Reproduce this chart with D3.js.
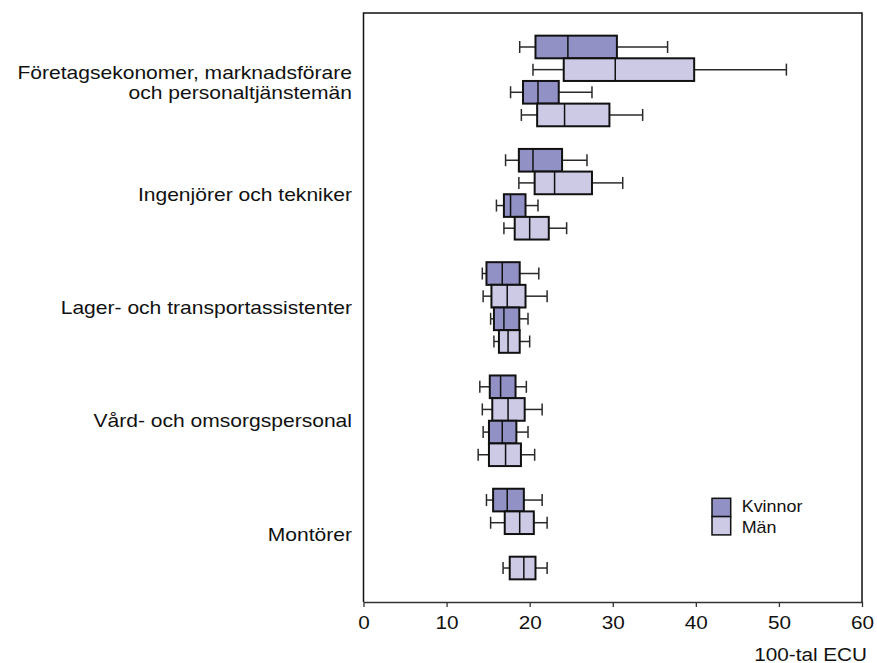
<!DOCTYPE html>
<html>
<head>
<meta charset="utf-8">
<script src="https://cdn.jsdelivr.net/npm/d3@7"></script>
<style>
  html, body { margin: 0; padding: 0; background: #fff; }
  svg { display: block; }
  text { font-family: "Liberation Sans", Arial, sans-serif; fill: #111; }
</style>
</head>
<body>
<svg id="chart" width="877" height="663"></svg>
<script>
// Occupational groups, top to bottom
const categories = [
  "Företagsekonomer, marknadsförare\noch personaltjänstemän",
  "Ingenjörer och tekniker",
  "Lager- och transportassistenter",
  "Vård- och omsorgspersonal",
  "Montörer"
];
// Four boxes per group, alternating women / men
const rowSex = ["Kvinnor", "Män", "Kvinnor", "Män"];
const legendLabels = ["Kvinnor", "Män"];
const xTicks = [0, 10, 20, 30, 40, 50, 60];
const xUnit = "100-tal ECU";

// Box statistics (hundreds of ECU); null = no data
const lowWhisker = [
  [18.8, 20.4, 17.7, 19.0],
  [17.1, 18.7, 16.0, 16.9],
  [14.3, 14.4, 15.3, 15.7],
  [14.0, 14.3, 14.4, 13.8],
  [14.8, 15.3, null, 16.8]
];
const q1 = [
  [20.7, 24.1, 19.2, 20.9],
  [18.7, 20.6, 16.9, 18.2],
  [14.8, 15.4, 15.7, 16.3],
  [15.2, 15.5, 15.1, 15.1],
  [15.6, 17.0, null, 17.6]
];
const median = [
  [24.6, 30.3, 21.0, 24.2],
  [20.4, 23.0, 17.7, 20.0],
  [16.7, 17.3, 16.9, 17.4],
  [16.5, 17.4, 16.7, 17.1],
  [17.3, 18.8, null, 19.3]
];
const q3 = [
  [30.5, 39.8, 23.5, 29.6],
  [23.9, 27.5, 19.5, 22.3],
  [18.8, 19.5, 18.75, 18.8],
  [18.3, 19.4, 18.4, 18.95],
  [19.3, 20.5, null, 20.7]
];
const highWhisker = [
  [36.6, 50.9, 27.5, 33.6],
  [26.9, 31.2, 21.0, 24.45],
  [21.1, 22.1, 19.8, 20.0],
  [19.6, 21.5, 19.8, 20.6],
  [21.5, 22.1, null, 22.1]
];

const fills = { "Kvinnor": "#9191c5", "Män": "#cccae5" };
const textSX = 1.12;   // glyphs are drawn slightly wide
const catSX = 1.17;

const svg = d3.select("#chart");
const plotL = 363.5, plotR = 862, plotT = 13, plotB = 602;

const x = d3.scaleLinear().domain([0, 60]).range([plotL, plotR]);
const y = d3.scaleBand().domain(categories).range([plotT, plotB])
  .paddingInner(0.2).paddingOuter(0.2);
const sub = d3.scaleBand().domain(d3.range(rowSex.length)).range([0, y.bandwidth()]);

// flatten into one record per box
const boxes = [];
categories.forEach((c, i) => {
  rowSex.forEach((s, j) => {
    if (median[i][j] == null) return;
    boxes.push({
      cat: c, row: j, sex: s,
      lo: lowWhisker[i][j], q1: q1[i][j], med: median[i][j],
      q3: q3[i][j], hi: highWhisker[i][j]
    });
  });
});

// frame (left, top, right)
svg.append("path")
  .attr("d", `M${plotL},${plotB}V${plotT}H${plotR}V${plotB}`)
  .attr("fill", "none").attr("stroke", "#111").attr("stroke-width", 1.5);

// x axis
const axis = svg.append("g")
  .attr("transform", `translate(0,${plotB})`)
  .call(d3.axisBottom(x).tickValues(xTicks).tickSize(5).tickSizeOuter(0));
axis.select(".domain").attr("stroke", "#333").attr("stroke-width", 1.5);
axis.selectAll(".tick line").attr("stroke", "#333").attr("stroke-width", 1.3);
axis.selectAll(".tick text")
  .attr("y", 27.3).attr("dy", null)
  .attr("font-size", "18.5px")
  .attr("font-family", "'Liberation Sans', Arial, sans-serif")
  .attr("fill", "#111")
  .attr("transform", `scale(${textSX},1)`);

svg.append("text")
  .attr("transform", `translate(867,660.7) scale(${textSX},1)`)
  .attr("text-anchor", "end").attr("font-size", "18.5px")
  .text(xUnit);

// category labels, right-aligned against the frame
categories.forEach(c => {
  const lines = c.split("\n");
  const cy = y(c) + y.bandwidth() / 2;
  const lh = 20.3;
  const base = lines.length > 1 ? cy + 8.2 - lh / 2 : cy + 6.5;
  lines.forEach((ln, k) => {
    svg.append("text")
      .attr("transform", `translate(352,${base + k * lh}) scale(${catSX},1)`)
      .attr("text-anchor", "end").attr("font-size", "18px")
      .text(ln);
  });
});

const capH = 12;
const g = svg.append("g");

// whiskers
const wh = g.selectAll("g.whisk").data(boxes).join("g").attr("class", "whisk")
  .attr("transform", d => `translate(0,${y(d.cat) + sub(d.row) + sub.bandwidth() / 2})`)
  .attr("stroke", "#2a2a2a").attr("stroke-width", 1.5);
wh.append("line").attr("x1", d => x(d.lo)).attr("x2", d => x(d.q1));
wh.append("line").attr("x1", d => x(d.q3)).attr("x2", d => x(d.hi));
wh.append("line").attr("x1", d => x(d.lo)).attr("x2", d => x(d.lo))
  .attr("y1", -capH / 2).attr("y2", capH / 2);
wh.append("line").attr("x1", d => x(d.hi)).attr("x2", d => x(d.hi))
  .attr("y1", -capH / 2).attr("y2", capH / 2);

// boxes
g.selectAll("rect.box").data(boxes).join("rect").attr("class", "box")
  .attr("x", d => x(d.q1)).attr("width", d => x(d.q3) - x(d.q1))
  .attr("y", d => y(d.cat) + sub(d.row)).attr("height", sub.bandwidth())
  .attr("fill", d => fills[d.sex]).attr("stroke", "#111").attr("stroke-width", 2);

// medians
g.selectAll("line.med").data(boxes).join("line").attr("class", "med")
  .attr("x1", d => x(d.med)).attr("x2", d => x(d.med))
  .attr("y1", d => y(d.cat) + sub(d.row)).attr("y2", d => y(d.cat) + sub(d.row) + sub.bandwidth())
  .attr("stroke", "#111").attr("stroke-width", 1.5);

// legend
const lg = svg.append("g").attr("transform", "translate(712,498.3)");
legendLabels.forEach((s, i) => {
  lg.append("rect").attr("x", 0).attr("y", i * 18.3).attr("width", 18.7).attr("height", 18.3)
    .attr("fill", fills[s]).attr("stroke", "#111").attr("stroke-width", 1.5);
  lg.append("text")
    .attr("transform", `translate(29.7,${14 + i * 20.7}) scale(${textSX},1)`)
    .attr("font-size", "16px").text(s);
});
</script>
</body>
</html>
